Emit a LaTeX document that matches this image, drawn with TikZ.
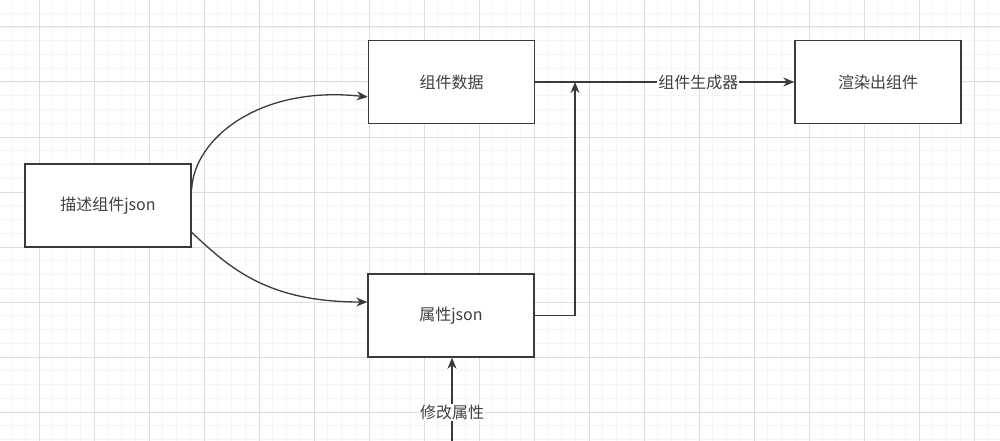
\documentclass[tikz,border=0pt]{standalone}
\usepackage{fontspec}
\newfontfamily\cjk{Noto Sans CJK SC}
\usetikzlibrary{arrows.meta,calc}
\definecolor{linegray}{HTML}{3A3A3A}
\definecolor{textgray}{HTML}{404040}
\definecolor{majorgrid}{HTML}{DEDEDE}
\definecolor{minorgrid}{HTML}{F6F6F6}
\tikzset{
  box/.style={draw=linegray, line width=1.4pt, fill=white, minimum width=166pt, minimum height=83pt,
    inner sep=0pt, font=\cjk\fontsize{16}{18}\selectfont, text=textgray},
  arr/.style={draw=linegray, line width=1.3pt, -{Stealth[length=11pt,width=9pt,inset=3.5pt]}},
  lbl/.style={fill=white, inner sep=1pt, font=\cjk\fontsize{16}{18}\selectfont, text=textgray},
  minorline/.style={draw=minorgrid, line width=0.8pt},
  majorline/.style={draw=majorgrid, line width=1pt}
}
\begin{document}
\begin{tikzpicture}[x=1pt,y=-1pt]
\useasboundingbox (0,0) rectangle (1000,441);
\fill[white] (0,0) rectangle (1000,441);
% grid
\foreach \i in {-2,...,70} {\draw[minorline] ({39+13.75*\i},0) -- ({39+13.75*\i},441);}
\foreach \i in {-1,...,30} {\draw[minorline] (0,{27+13.75*\i}) -- (1000,{27+13.75*\i});}
\foreach \i in {0,...,17} {\draw[majorline] ({39+55*\i},0) -- ({39+55*\i},441);}
\foreach \i in {0,...,7} {\draw[majorline] (0,{27+55*\i}) -- (1000,{27+55*\i});}
% nodes
\node[box] (data) at (451.5,82) {组件数据};
\node[box] (render) at (878,82) {渲染出组件};
\node[box] (desc) at (108,205.5) {描述组件json};
\node[box] (attr) at (451,315.5) {属性json};
\coordinate (j) at (575,82);
\coordinate (b) at (452,441);
% connectors
\draw[arr] ($(desc.north east)+(0,26)$) .. controls ++(2,-50) and ($(data.west)+(-109,3)$) .. ($(data.west)+(0,15)$);
\draw[arr] ($(desc.north east)+(0,69)$) .. controls ++(39,37) and ($(attr.west)+(-99,-13.5)$) .. ($(attr.west)+(0,-13.5)$);
\draw[arr] (data.east) -- (render.west) node[lbl, pos=0.63] {组件生成器};
\draw[arr] (attr.east) -| (j);
\draw[arr] (b) -- (b |- attr.south) node[lbl, pos=0.345] {修改属性};
\end{tikzpicture}
\end{document}
